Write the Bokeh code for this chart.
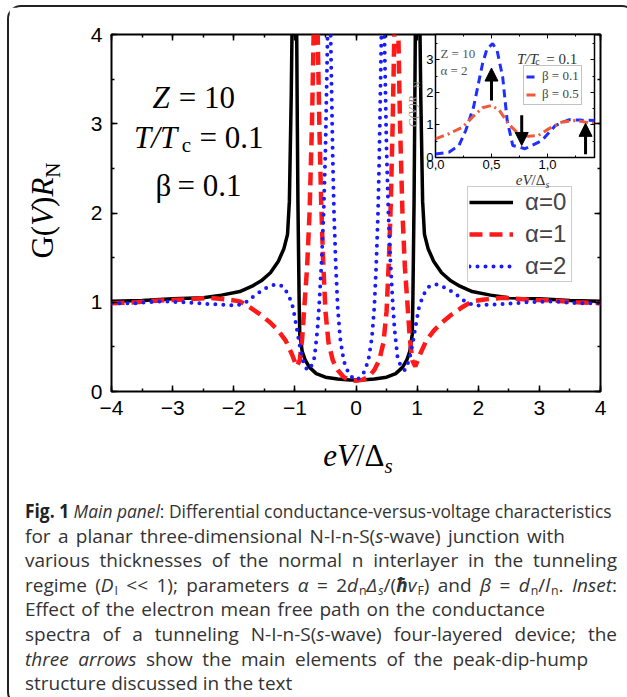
from math import pi
from bokeh.plotting import figure
from bokeh.models import (Range1d, LinearAxis, SingleIntervalTicker, FixedTicker, Label,
                          Legend, LegendItem, Arrow, NormalHead, Div, CustomJSTickFormatter,
                          CustomLabelingPolicy, GridBox)
from bokeh.layouts import column
from bokeh.embed import file_html
from bokeh.resources import INLINE

# ---------------- data: main panel ----------------
black_x = [-4.0, -3.5, -3.0, -2.5, -2.2, -1.9, -1.7, -1.55, -1.4, -1.27, -1.18, -1.12, -1.09, -1.06,
           -1.02, -0.98, -0.96, -0.95, -0.93, -0.92, -0.88, -0.83, -0.76, -0.65, -0.5, -0.3, -0.1, 0.0,
           0.1, 0.3, 0.5, 0.65, 0.76, 0.83, 0.88, 0.92, 0.93, 0.95, 0.96, 0.98, 1.02, 1.06, 1.09, 1.12,
           1.18, 1.27, 1.4, 1.55, 1.7, 1.9, 2.2, 2.5, 3.0, 3.5, 4.0]
black_y = [1.01, 1.02, 1.04, 1.05, 1.08, 1.12, 1.18, 1.24, 1.33, 1.46, 1.6, 1.76, 2.13, 3.3,
           5.5, 5.0, 3.0, 2.13, 1.0, 0.64, 0.45, 0.35, 0.27, 0.2, 0.16, 0.14, 0.13, 0.13,
           0.13, 0.14, 0.16, 0.2, 0.27, 0.35, 0.45, 0.64, 1.0, 2.13, 3.0, 5.0, 5.5, 3.3, 2.13, 1.76,
           1.6, 1.46, 1.33, 1.24, 1.18, 1.12, 1.08, 1.05, 1.04, 1.02, 1.01]

red_x = [-4.0, -3.6, -3.2, -2.8, -2.4, -2.1, -1.9, -1.75, -1.56, -1.4, -1.27, -1.15, -1.05, -0.97,
         -0.92, -0.88, -0.84, -0.8, -0.76, -0.72, -0.68, -0.64, -0.6, -0.57, -0.54, -0.5, -0.45,
         -0.38, -0.3, -0.2, -0.1, 0.0, 0.1, 0.2, 0.3, 0.38, 0.45, 0.5, 0.54, 0.57, 0.6, 0.64, 0.68,
         0.72, 0.76, 0.8, 0.84, 0.88, 0.92, 0.97, 1.05, 1.15, 1.27, 1.4, 1.56, 1.75, 1.9, 2.1, 2.4,
         2.8, 3.2, 3.6, 4.0]
red_y = [0.99, 1.0, 1.02, 1.03, 1.05, 1.03, 1.01, 0.95, 0.86, 0.77, 0.68, 0.57, 0.42, 0.28,
         0.35, 0.6, 1.0, 1.39, 2.0, 3.0, 4.5, 4.5, 3.0, 2.13, 1.5, 0.9, 0.55,
         0.35, 0.24, 0.16, 0.13, 0.12, 0.13, 0.16, 0.24, 0.35, 0.55, 0.9, 1.5, 2.13, 3.0, 4.5, 4.5,
         3.0, 2.0, 1.39, 1.0, 0.6, 0.35, 0.28, 0.42, 0.57, 0.68, 0.77, 0.86, 0.95, 1.01, 1.03, 1.05,
         1.03, 1.02, 1.0, 0.99]

blue_x = [-4.0, -3.6, -3.2, -2.8, -2.4, -2.1, -1.96, -1.8, -1.67, -1.5, -1.32, -1.2, -1.1, -1.03,
          -0.98, -0.93, -0.87, -0.8, -0.74, -0.68, -0.63, -0.6, -0.56, -0.53, -0.5, -0.47, -0.44,
          -0.41, -0.38, -0.36, -0.33, -0.3, -0.26, -0.2, -0.12, -0.05, 0.0, 0.05, 0.12, 0.2, 0.26,
          0.3, 0.33, 0.36, 0.38, 0.41, 0.44, 0.47, 0.5, 0.53, 0.56, 0.6, 0.63, 0.68, 0.74, 0.8, 0.87,
          0.93, 0.98, 1.03, 1.1, 1.2, 1.32, 1.5, 1.67, 1.8, 1.96, 2.1, 2.4, 2.8, 3.2, 3.6, 4.0]
blue_y = [0.99, 0.99, 1.01, 1.0, 0.98, 0.97, 0.96, 1.0, 1.07, 1.15, 1.2, 1.18, 1.08, 0.94,
          0.75, 0.55, 0.35, 0.24, 0.27, 0.38, 0.7, 1.0, 1.5, 2.0, 2.7, 3.8, 5.0,
          3.8, 2.6, 2.0, 1.4, 0.95, 0.6, 0.34, 0.2, 0.15, 0.13, 0.15, 0.2, 0.34, 0.6,
          0.95, 1.4, 2.0, 2.6, 3.8, 5.0, 3.8, 2.7, 2.0, 1.5, 1.0, 0.7, 0.38, 0.27, 0.24, 0.35,
          0.55, 0.75, 0.94, 1.08, 1.18, 1.2, 1.15, 1.07, 1.0, 0.96, 0.97, 0.98, 1.0, 1.01, 0.99, 0.99]

series_labels = ["α=0", "α=1", "α=2"]

# ---------------- data: inset ----------------
inset_b01_x = [0.0, 0.12, 0.21, 0.27, 0.34, 0.42, 0.46, 0.51, 0.55, 0.6, 0.64, 0.69, 0.8, 0.95,
               1.07, 1.19, 1.3, 1.43]
inset_b01_y = [0.11, 0.16, 0.37, 0.83, 1.55, 2.88, 3.34, 3.5, 3.29, 2.47, 1.14, 0.37, 0.27, 0.52,
               0.98, 1.16, 1.15, 1.14]
inset_b05_x = [0.0, 0.12, 0.24, 0.33, 0.42, 0.5, 0.57, 0.65, 0.74, 0.83, 0.92, 1.01, 1.13, 1.25,
               1.35, 1.43]
inset_b05_y = [0.57, 0.73, 0.93, 1.24, 1.53, 1.6, 1.45, 1.04, 0.73, 0.65, 0.68, 0.88, 1.09, 1.14,
               1.08, 1.04]
inset_labels = ["β = 0.1", "β = 0.5"]
arrow_x = [0.5, 0.77, 1.34]
arrow_y_start = [1.75, 1.3, 0.1]
arrow_y_end = [2.75, 0.37, 1.05]

SERIF = "Liberation Serif"
SANS = "Liberation Sans"

no_labels = CustomLabelingPolicy(code="return new Set()")

# ---------------- main figure ----------------
p = figure(width=615, height=473, x_range=Range1d(-4, 4), y_range=Range1d(0, 4),
           output_backend="svg", toolbar_location=None,
           x_axis_location=None, y_axis_location=None,
           min_border_left=102, min_border_right=24, min_border_top=27, min_border_bottom=89)
p.grid.visible = False
p.outline_line_color = "black"
p.outline_line_width = 2
p.background_fill_color = "white"
p.border_fill_color = "white"


def style_axis(ax, show_labels, size):
    ax.axis_line_color = None
    ax.major_tick_in = 6
    ax.major_tick_out = 0
    ax.minor_tick_in = 3
    ax.minor_tick_out = 0
    ax.major_tick_line_width = 1.5
    ax.minor_tick_line_width = 1.5
    ax.major_label_text_font = SANS
    ax.major_label_text_color = "black"
    if show_labels:
        ax.major_label_text_font_size = size
    else:
        ax.major_label_text_font_size = "1px"
        ax.major_label_policy = no_labels
        ax.major_label_standoff = 0


for side in ["below", "above", "left", "right"]:
    ax = LinearAxis(ticker=SingleIntervalTicker(interval=1, num_minor_ticks=2))
    show = side in ("below", "left")
    style_axis(ax, show, "21px")
    if show:
        ax.major_label_standoff = 9
    p.add_layout(ax, side)

r0 = p.line(black_x, black_y, line_color="black", line_width=3.5)
r1 = p.line(red_x, red_y, line_color="#ff1a1a", line_width=4.5, line_dash="13 7")
r2 = p.line(blue_x, blue_y, line_color="#1a1aff", line_width=4, line_dash="0 8", line_cap="round")

legend = Legend(items=[LegendItem(label=series_labels[0], renderers=[r0]),
                       LegendItem(label=series_labels[1], renderers=[r1]),
                       LegendItem(label=series_labels[2], renderers=[r2])],
                location=(356, 109), label_text_font=SANS, label_text_font_size="24px",
                glyph_width=44, glyph_height=28, label_height=28, label_width=45,
                label_standoff=12, spacing=4, padding=1, margin=0,
                border_line_color="#999999", border_line_width=1, background_fill_color="white")
p.add_layout(legend)


def lab(fig, x, y, text, size, style="normal", color="black", angle=0, font=SERIF):
    fig.add_layout(Label(x=x, y=y, text=text, text_font=font, text_font_size=size,
                         text_font_style=style, text_color=color, angle=angle,
                         text_align="left", text_baseline="alphabetic"))


# annotation text in the main panel
lab(p, -3.33, 3.29, "Z", "31px", "italic")
lab(p, -2.90, 3.29, "= 10", "31px")
lab(p, -3.63, 2.85, "T/T", "31px", "italic")
lab(p, -2.85, 2.76, "c", "21px")
lab(p, -2.56, 2.85, "= 0.1", "31px")
lab(p, -3.28, 2.31, "β", "31px")
lab(p, -2.92, 2.31, "= 0.1", "31px")

# inset y title (sits left of the inset, over the main panel)
lab(p, 0.94, 2.96, "G(V)R", "12px", "italic", color="#8a8a8a", angle=pi / 2)
lab(p, 0.99, 3.4, "N", "9px", color="#8a8a8a", angle=pi / 2)

# ---------------- inset figure ----------------
q = figure(width=175, height=163, x_range=Range1d(0, 1.42), y_range=Range1d(0, 3.78),
           output_backend="svg", toolbar_location=None,
           x_axis_location=None, y_axis_location=None,
           min_border_left=12, min_border_right=3, min_border_top=4, min_border_bottom=36)
q.grid.visible = False
q.outline_line_color = "black"
q.outline_line_width = 1.5
q.background_fill_color = "white"
q.border_fill_color = None

comma = CustomJSTickFormatter(code="return tick.toFixed(1).replace('.', ',');")
for side in ["below", "above", "left", "right"]:
    if side in ("below", "above"):
        tk = FixedTicker(ticks=[0, 0.5, 1.0], minor_ticks=[0.25, 0.75, 1.25])
    else:
        tk = FixedTicker(ticks=[0, 1, 2, 3], minor_ticks=[0.5, 1.5, 2.5, 3.5])
    ax = LinearAxis(ticker=tk)
    show = side in ("below", "left")
    style_axis(ax, show, "13px")
    ax.major_tick_in = 4
    ax.minor_tick_in = 2
    ax.major_tick_line_width = 1
    ax.minor_tick_line_width = 1
    if show:
        ax.major_label_standoff = 2
    if side == "below":
        ax.formatter = comma
    q.add_layout(ax, side)

s0 = q.line(inset_b01_x, inset_b01_y, line_color="#1f2fff", line_width=3, line_dash="8 5")
s1 = q.line(inset_b05_x, inset_b05_y, line_color="#ef5b3a", line_width=3, line_dash="9 4 2 4")

for xa, ya, yb in zip(arrow_x, arrow_y_start, arrow_y_end):
    q.add_layout(Arrow(x_start=xa, y_start=ya, x_end=xa, y_end=yb, line_width=3, line_color="black",
                       end=NormalHead(size=13, fill_color="black", line_color="black")))

leg2 = Legend(items=[LegendItem(label=inset_labels[0], renderers=[s0]),
                     LegendItem(label=inset_labels[1], renderers=[s1])],
              location=(88, 52), label_text_font=SERIF, label_text_font_size="13px",
              glyph_width=12, glyph_height=15, label_height=15, label_standoff=4,
              spacing=2, padding=2, margin=0, border_line_color="#888888", border_line_width=1,
              background_fill_color="white")
q.add_layout(leg2)

lab(q, 0.044, 3.2, "Z = 10", "13px", color="#555555")
lab(q, 0.044, 2.67, "α = 2", "13px", color="#555555")
lab(q, 0.728, 3.04, "T/T", "15px", "italic", color="#333333")
lab(q, 0.89, 2.95, "c", "10px", color="#333333")
lab(q, 0.99, 3.04, "= 0.1", "15px", color="#333333")


# ---------------- axis titles as HTML overlays ----------------
def title_div(html, w, h, size, color="black", rotate=False):
    rot = "transform:rotate(-90deg);" if rotate else ""
    inner = (f"<div style=\"width:{w}px;height:{h}px;display:flex;align-items:center;"
             f"justify-content:center;\"><div style=\"{rot}white-space:nowrap;"
             f"font-family:'Liberation Serif';font-size:{size}px;line-height:{size}px;"
             f"color:{color};\">{html}</div></div>")
    return Div(text=inner, width=w, height=h)


sub_big = "<sub style='font-size:21px;line-height:0;vertical-align:-7px'>"
sub_small = "<sub style='font-size:10px;line-height:0;vertical-align:-3px'>"
y_title = title_div(f"G(<i>V</i>)<i>R</i>{sub_big}N</sub>", 48, 170, 31, rotate=True)
x_title = title_div(f"<i>eV</i>/Δ{sub_big}<i>s</i></sub>", 120, 40, 31)
inset_x_title = title_div(f"<i>eV</i>/Δ{sub_small}<i>s</i></sub>", 65, 20, 15, color="#333333")

# placement of the overlapping pieces: (item, x0, x1, y0, y1) relative to the panel's corner
pieces = [(p, 0, 615, 0, 473), (q, 414, 589, 23, 186), (y_title, 4, 52, 113, 283),
          (x_title, 284, 404, 423, 463), (inset_x_title, 486, 551, 158, 178)]
xs = sorted({v for it in pieces for v in (it[1], it[2])})
ys = sorted({v for it in pieces for v in (it[3], it[4])})
grid_children = [(obj, ys.index(y0), xs.index(x0), ys.index(y1) - ys.index(y0),
                  xs.index(x1) - xs.index(x0)) for obj, x0, x1, y0, y1 in pieces]
grid = GridBox(children=grid_children,
               cols=[f"{b - a}px" for a, b in zip(xs, xs[1:])],
               rows=[f"{b - a}px" for a, b in zip(ys, ys[1:])])

# ---------------- caption ----------------
caption_lines = [
    "<b style='color:#222'>Fig. 1</b> <i>Main panel</i>: Differential conductance-versus-voltage characteristics",
    "for a planar three-dimensional N-I-n-S(<i>s</i>-wave) junction with",
    "various thicknesses of the normal n interlayer in the tunneling",
    "regime (<i>D</i><sub>I</sub> &lt;&lt; 1); parameters <i>α</i> = 2<i>d</i><sub>n</sub><i>Δ</i><sub><i>s</i></sub>/(<i><b>ħ</b>v</i><sub>F</sub>) and <i>β</i> = <i>d</i><sub>n</sub>/<i>l</i><sub>n</sub>. <i>Inset</i>:",
    "Effect of the electron mean free path on the conductance",
    "spectra of a tunneling N-I-n-S(<i>s</i>-wave) four-layered device; the",
    "<i>three arrows</i> show the main elements of the peak-dip-hump",
    "structure discussed in the text",
]
line_widths = [592, 540, 592, 592, 520, 592, 563, None]
line_html = []
for i, (t, w) in enumerate(zip(caption_lines, line_widths)):
    st = "white-space:nowrap;height:24.6px;line-height:24.6px;"
    if i == 0:
        st += "transform:scaleX(0.915);transform-origin:0 50%;"
    elif w is not None:
        st += f"width:{w}px;text-align:justify;text-align-last:justify;"
    line_html.append(f"<div style='{st}'>{t}</div>")
cap_html = ("<div style=\"font-family:'Open Sans';font-size:19px;color:#333;padding:14px 0 0 11px;\">"
            "<style>sub{font-size:0.65em;line-height:0;vertical-align:-0.25em;margin-left:1px}</style>"
            + "".join(line_html) + "</div>")
cap = Div(text=cap_html, width=615, height=214)

layout = column(grid, cap, styles={"border": "2px solid #222", "border-radius": "14px",
                                   "margin": "5px 0 0 7px"})

open("out.html", "w").write(file_html(layout, INLINE))
